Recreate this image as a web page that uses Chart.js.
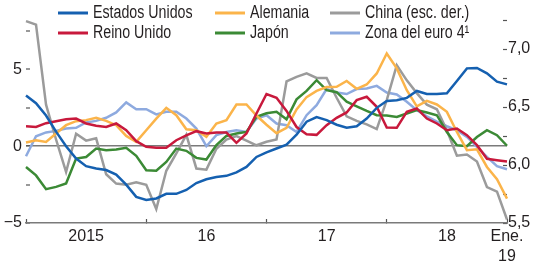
<!DOCTYPE html>
<html><head><meta charset="utf-8">
<script src="https://cdn.jsdelivr.net/npm/chart.js@4.4.1/dist/chart.umd.min.js"></script>
<style>html,body{margin:0;padding:0;background:#fff;overflow:hidden}</style>
</head><body>
<canvas id="c" width="533" height="278"></canvas>
<script>
// ---- DATA ----
const months = [
 '2015-01','2015-02','2015-03','2015-04','2015-05','2015-06','2015-07','2015-08','2015-09','2015-10','2015-11','2015-12',
 '2016-01','2016-02','2016-03','2016-04','2016-05','2016-06','2016-07','2016-08','2016-09','2016-10','2016-11','2016-12',
 '2017-01','2017-02','2017-03','2017-04','2017-05','2017-06','2017-07','2017-08','2017-09','2017-10','2017-11','2017-12',
 '2018-01','2018-02','2018-03','2018-04','2018-05','2018-06','2018-07','2018-08','2018-09','2018-10','2018-11','2018-12',
 '2019-01'];
const estadosUnidos = [3.3,2.8,2.0,0.95,0.0,-0.8,-1.3,-1.45,-1.55,-1.85,-2.5,-3.3,-3.5,-3.4,-3.1,-3.1,-2.85,-2.4,-2.15,-2.0,-1.93,-1.7,-1.35,-0.7,-0.4,-0.15,0.1,0.75,1.6,1.9,1.7,1.4,1.2,1.3,1.8,2.5,2.95,3.0,3.15,3.6,3.4,3.4,3.45,4.25,5.07,5.1,4.75,4.2,4.03];
const reinoUnido = [1.3,1.26,1.5,1.63,1.76,1.8,1.48,1.33,1.26,1.48,1.04,0.33,-0.04,-0.1,-0.1,0.39,0.7,0.98,0.83,0.89,0.89,0.22,0.83,2.13,3.4,3.15,2.3,1.25,0.78,0.74,1.37,1.85,2.2,3.0,3.22,2.57,1.22,1.2,2.24,2.46,1.8,1.48,1.04,1.15,0.72,0.07,-0.82,-0.91,-1.0];
const alemania = [0.24,0.39,0.28,0.83,1.37,1.63,1.7,1.85,1.65,1.37,0.67,0.28,1.04,1.8,2.5,2.02,1.1,1.04,0.61,1.48,1.7,2.72,2.72,2.0,1.4,0.85,1.2,2.4,3.2,3.6,3.85,3.87,4.25,3.74,4.02,4.74,6.04,5.07,3.65,2.6,2.95,2.72,2.24,0.93,-0.26,-0.2,-1.35,-2.15,-3.41];
const japon = [-1.35,-1.9,-2.8,-2.65,-2.43,-0.8,-0.7,-0.15,-0.26,-0.22,-0.1,-0.63,-1.57,-1.6,-1.02,-0.15,-0.3,-0.76,-0.87,0.07,0.67,0.83,0.93,1.91,2.15,2.24,1.75,3.05,3.6,4.3,3.65,3.52,2.9,2.6,2.3,2.02,2.0,1.91,2.13,2.35,2.2,2.02,0.93,0.07,0.0,0.6,1.04,0.72,0.03];
const china = [7.24,7.21,6.52,6.22,5.94,6.27,6.21,6.23,5.92,5.84,5.83,5.85,5.83,5.62,5.95,6.1,6.26,5.97,5.96,6.14,6.22,6.25,6.21,6.17,6.2,6.22,6.72,6.76,6.79,6.75,6.75,6.58,6.42,6.38,6.35,6.31,6.56,6.86,6.73,6.62,6.52,6.48,6.3,6.08,6.09,6.03,5.81,5.77,5.53];
const zonaEuro = [-0.65,0.65,0.9,1.0,1.15,1.2,1.55,1.65,1.85,2.2,2.85,2.41,2.41,2.07,2.24,2.24,1.8,1.15,0.0,0.72,0.93,1.04,0.93,1.8,2.02,1.48,1.37,0.93,2.02,2.67,3.72,3.5,3.4,3.72,3.76,3.93,3.5,3.37,2.89,2.35,1.95,1.6,1.3,1.04,0.61,-0.04,-0.7,-1.3,-1.5];
const seriesNames = ['Estados Unidos','Reino Unido','Alemania','Japón','China (esc. der.)','Zona del euro 4¹'];
const xTickIndex = [0,6,12,18,24,30,36,42,48];
const xTickLabels = {6:'2015',18:'16',30:'17',42:'18',48:['Ene.','19']};
const xTickMarks = [0,12,24,36,48];
const leftTicks = [-5,-2.5,0,2.5,5,7.5];
const leftTickLabels = {'-5':'\u22125','0':'0','5':'5'};
const rightTicks = [5.5,5.75,6,6.25,6.5,6.75,7,7.25];
const rightTickLabels = {'5.5':'5,5','6':'6,0','6.5':'6,5','7':'7,0'};

// ---- STYLE ----
const FONT = "'Liberation Sans Narrow','Arial Narrow','Liberation Sans',Arial,sans-serif";
const colors = ['#1560b0','#c8193c','#fbb44a','#3b8a35','#9b9b9b','#8eaadf'];
const legendSlots = [[58,13],[58,33],[215,13],[215,33],[330,13],[330,33]];
Chart.defaults.font.family = FONT;
Chart.defaults.font.size = 16;
Chart.defaults.color = '#231f20';

const legendPlugin = {
  id: 'colLegend',
  afterDraw(chart) {
    const ctx = chart.ctx;
    chart.data.datasets.forEach((ds, i) => {
      const [x, y] = legendSlots[i];
      ctx.save();
      ctx.strokeStyle = ds.borderColor; ctx.lineWidth = 3;
      ctx.beginPath(); ctx.moveTo(x, y); ctx.lineTo(x + 30, y); ctx.stroke();
      ctx.fillStyle = '#231f20'; ctx.font = '18px ' + FONT;
      ctx.textBaseline = 'middle'; ctx.textAlign = 'left';
      ctx.translate(x + 35, y);
      ctx.scale(0.79, 1);
      ctx.fillText(ds.label, 0, 0);
      ctx.restore();
    });
  }
};

const allSeries = [estadosUnidos, reinoUnido, alemania, japon, china, zonaEuro];
const datasets = allSeries.map((d, i) => ({
  label: seriesNames[i], data: d, borderColor: colors[i], backgroundColor: colors[i],
  borderWidth: 2.5, pointRadius: 0, tension: 0, fill: false,
  yAxisID: i === 4 ? 'yR' : 'y'
}));

new Chart(document.getElementById('c'), {
  type: 'line',
  data: { labels: months, datasets },
  plugins: [legendPlugin],
  options: {
    responsive: false, animation: false, devicePixelRatio: 1,
    layout: { padding: { top: 20, left: 0, right: 0, bottom: 0 } },
    plugins: { legend: { display: false }, tooltip: { enabled: false } },
    scales: {
      x: {
        type: 'category', offset: false,
        afterBuildTicks: s => { s.ticks = xTickIndex.map(v => ({ value: v })); },
        afterFit: s => { s.height = 55; },
        ticks: { autoSkip: false, maxRotation: 0, padding: 7.5, font: { size: 16, lineHeight: 1.25 },
          callback: v => xTickLabels[v] !== undefined ? xTickLabels[v] : '' },
        grid: { drawOnChartArea: false, drawTicks: true, tickLength: -4, tickWidth: 1.2,
          tickColor: c => xTickMarks.includes(c.tick && c.tick.value) ? '#555' : 'rgba(0,0,0,0)' },
        border: { display: true, color: '#7a7a7a', width: 1.5 }
      },
      y: {
        position: 'left', min: -5, max: 8.22,
        afterBuildTicks: s => { s.ticks = leftTicks.map(v => ({ value: v })); },
        afterFit: s => { s.width = 26; },
        ticks: { padding: 8, font: { size: 16 },
          callback: v => leftTickLabels[String(v)] !== undefined ? leftTickLabels[String(v)] : '' },
        grid: { drawOnChartArea: true, drawTicks: true, tickLength: -4, tickWidth: 1.2, tickColor: '#555',
          color: c => (c.tick && c.tick.value === 0) ? '#7a7a7a' : 'rgba(0,0,0,0)',
          lineWidth: c => (c.tick && c.tick.value === 0) ? 1.5 : 0 },
        border: { display: false }
      },
      yR: {
        position: 'right', min: 5.5, max: 7.25,
        afterBuildTicks: s => { s.ticks = rightTicks.map(v => ({ value: v })); },
        afterFit: s => { s.width = 26; },
        ticks: { padding: 5, font: { size: 16 },
          callback: v => rightTickLabels[String(v)] !== undefined ? rightTickLabels[String(v)] : '' },
        grid: { drawOnChartArea: false, drawTicks: true, tickLength: -4, tickWidth: 1.2, tickColor: '#555' },
        border: { display: false }
      }
    }
  }
});
</script>
</body></html>
